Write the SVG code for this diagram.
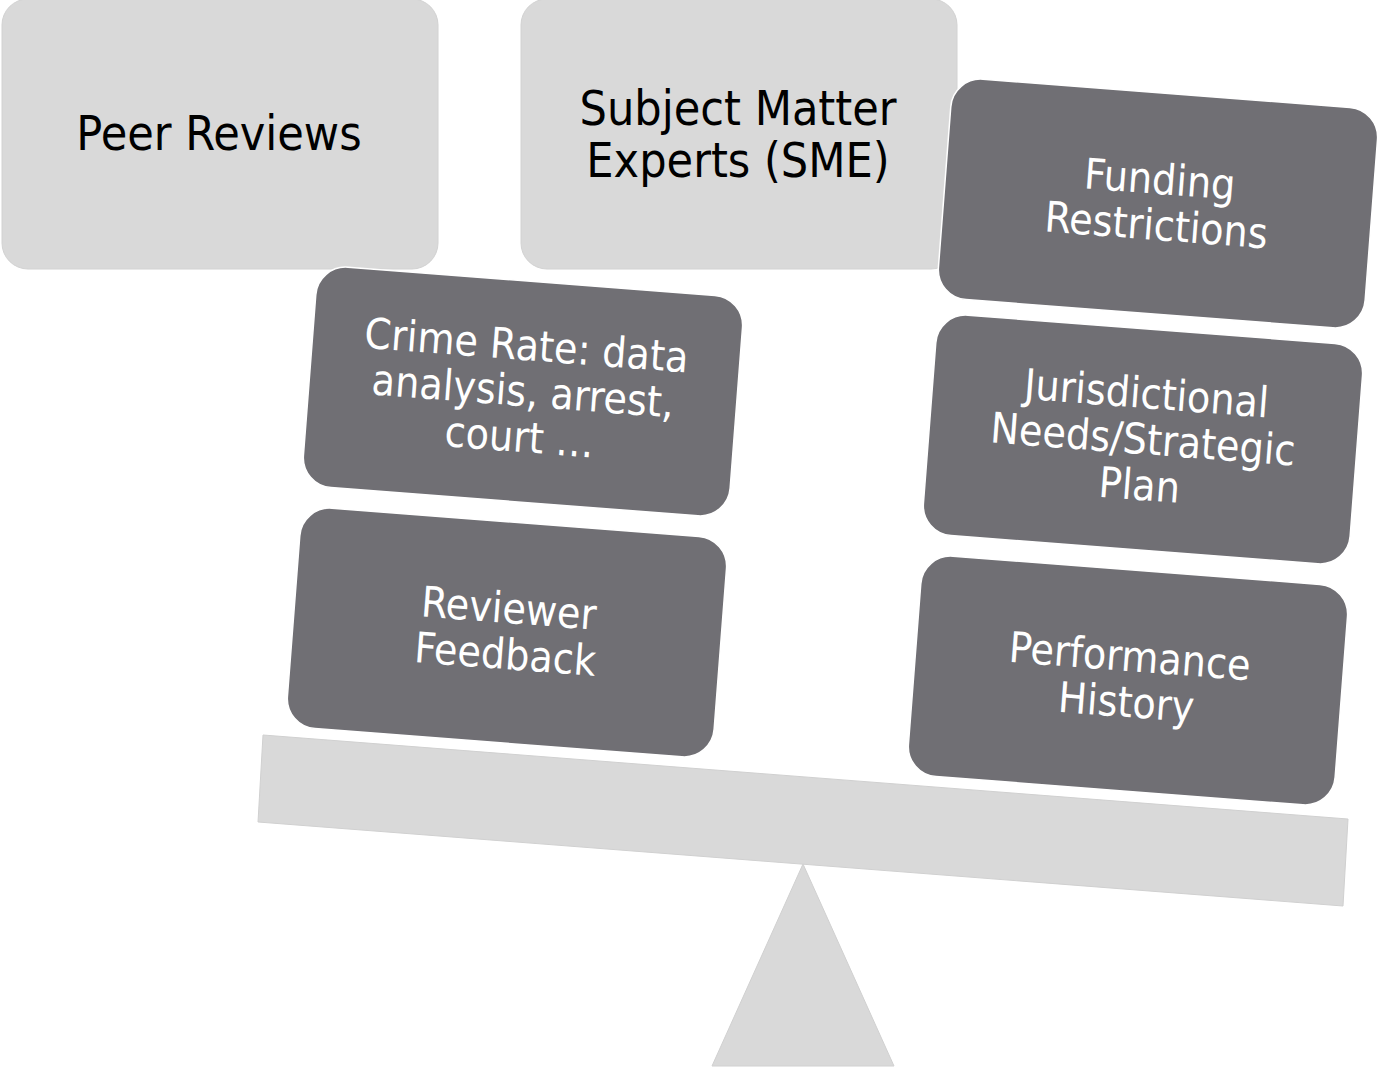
<svg xmlns="http://www.w3.org/2000/svg" width="1377" height="1071" viewBox="0 0 1377 1071">
<style>
.light{fill:#d9d9d9;stroke:#d2d2d2;stroke-width:1}
.dark{fill:#706f74;stroke:#ffffff;stroke-width:1.5}
.scale{fill:#d9d9d9;stroke:#d0d0d0;stroke-width:1}
.tl{font-family:"DejaVu Sans Condensed","DejaVu Sans",sans-serif;font-size:48px;fill:#000;text-anchor:middle}
.td{font-family:"DejaVu Sans Condensed","DejaVu Sans",sans-serif;font-size:42.5px;fill:#fff;text-anchor:middle}
</style>
<rect width="1377" height="1071" fill="#ffffff"/>
<g id="scale">
<polygon class="scale" points="263,735 1348,819 1343,906 258,822"/>
<polygon class="scale" points="803,864 894,1066 712,1066"/>
</g>
<g id="peer-reviews">
<rect class="light" x="2" y="-1" width="436" height="270" rx="26"/>
<text class="tl" x="219" y="150">Peer Reviews</text>
</g>
<g id="sme">
<rect class="light" x="521" y="-1" width="436" height="270" rx="26"/>
<text class="tl" x="738" y="125">Subject Matter</text>
<text class="tl" x="738" y="177">Experts (SME)</text>
</g>
<g id="funding" transform="translate(1158 203) rotate(4.4)">
<rect class="dark" x="-214" y="-110" width="428" height="221" rx="30"/>
<text class="td" x="0" y="-9">Funding</text>
<text class="td" x="0" y="37">Restrictions</text>
</g>
<g id="jurisdictional" transform="translate(1143 439) rotate(4.4)">
<rect class="dark" x="-214" y="-110" width="428" height="221" rx="30"/>
<text class="td" x="0" y="-31">Jurisdictional</text>
<text class="td" x="0" y="15">Needs/Strategic</text>
<text class="td" x="0" y="61">Plan</text>
</g>
<g id="performance" transform="translate(1128 680) rotate(4.4)">
<rect class="dark" x="-214" y="-110" width="428" height="221" rx="30"/>
<text class="td" x="0" y="-9">Performance</text>
<text class="td" x="0" y="37">History</text>
</g>
<g id="crime-rate" transform="translate(523 391) rotate(4.4)">
<rect class="dark" x="-214" y="-110" width="428" height="221" rx="30"/>
<text class="td" x="0" y="-31">Crime Rate: data</text>
<text class="td" x="0" y="15">analysis, arrest,</text>
<text class="td" x="0" y="61">court …</text>
</g>
<g id="reviewer-feedback" transform="translate(507 632) rotate(4.4)">
<rect class="dark" x="-214" y="-110" width="428" height="221" rx="30"/>
<text class="td" x="0" y="-9">Reviewer</text>
<text class="td" x="0" y="37">Feedback</text>
</g>
</svg>
